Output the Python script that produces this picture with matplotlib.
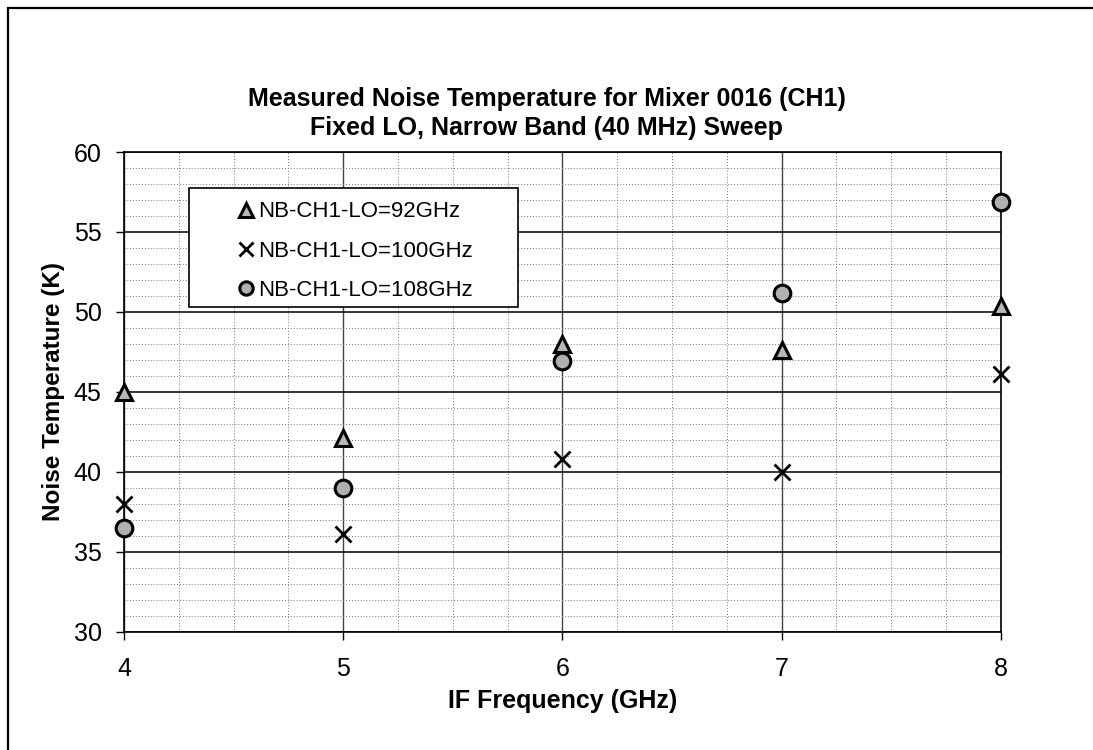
import matplotlib
matplotlib.use("Agg")
import matplotlib.pyplot as plt
from matplotlib.patches import Rectangle
from matplotlib.ticker import MultipleLocator

plt.rcParams['font.family'] = ['Liberation Sans', 'DejaVu Sans']

# data
if_freq = [4, 5, 6, 7, 8]
lo_92 = [45.0, 42.1, 48.0, 47.6, 50.4]
lo_100 = [38.0, 36.1, 40.8, 40.0, 46.1]
lo_108 = [36.5, 39.0, 46.9, 51.2, 56.9]
labels = ['NB-CH1-LO=92GHz', 'NB-CH1-LO=100GHz', 'NB-CH1-LO=108GHz']

fig = plt.figure(figsize=(10.93, 7.5), dpi=100)
ax = fig.add_axes([0.1134, 0.1577, 0.8022, 0.6396])

# outer chart frame (right/bottom run off the picture)
fig.patches.append(Rectangle((8 / 1093, -0.05), 1.2, 1 - 8 / 750 + 0.05,
                             transform=fig.transFigure, fill=False,
                             edgecolor='black', linewidth=1.6))

ax.set_xlim(4, 8)
ax.set_ylim(30, 60)
ax.xaxis.set_major_locator(MultipleLocator(1))
ax.xaxis.set_minor_locator(MultipleLocator(0.25))
ax.yaxis.set_major_locator(MultipleLocator(5))
ax.yaxis.set_minor_locator(MultipleLocator(1))

ax.grid(which='major', axis='y', color='black', linewidth=1.1, linestyle='-')
ax.grid(which='major', axis='x', color='#444444', linewidth=1.0, linestyle='-')
ax.grid(which='minor', color='#777777', linewidth=0.7, linestyle=(0, (1, 2)))
ax.set_axisbelow(True)

for s in ax.spines.values():
    s.set_linewidth(1.2)
    s.set_color('black')

ax.tick_params(which='major', direction='out', length=6, width=1,
               labelsize=18, pad=10)
ax.tick_params(which='minor', length=0)
ax.tick_params(axis='x', pad=12)

ax.plot(if_freq, lo_92, linestyle='none', marker='^', markersize=12,
        markerfacecolor='#b8b8b8', markeredgecolor='black',
        markeredgewidth=2.2, label=labels[0], clip_on=False, zorder=5)
ax.plot(if_freq, lo_100, linestyle='none', marker='x', markersize=12,
        color='black', markeredgewidth=2.0, label=labels[1],
        clip_on=False, zorder=5)
ax.plot(if_freq, lo_108, linestyle='none', marker='o', markersize=12,
        markerfacecolor='#b0b0b0', markeredgecolor='black',
        markeredgewidth=2.2, label=labels[2], clip_on=False, zorder=5)

# legend box drawn separately, entries placed inside it
ax.add_patch(Rectangle((0.074, 0.677), 0.375, 0.248, transform=ax.transAxes,
                       facecolor='white', edgecolor='black', linewidth=1.2,
                       zorder=6))
leg = ax.legend(loc='upper left', bbox_to_anchor=(0.129, 0.897), fontsize=16,
                frameon=False, borderpad=0, labelspacing=0.82,
                handlelength=0.8, handletextpad=0.15, borderaxespad=0,
                markerscale=0.8)
leg.set_zorder(7)

fig.text(0.5, 0.868, 'Measured Noise Temperature for Mixer 0016 (CH1)',
         ha='center', va='center', fontsize=18, fontweight='bold')
fig.text(0.5, 0.829, 'Fixed LO, Narrow Band (40 MHz) Sweep',
         ha='center', va='center', fontsize=18, fontweight='bold')

ax.set_xlabel('IF Frequency (GHz)', fontsize=18, fontweight='bold', labelpad=6)
ax.set_ylabel('Noise Temperature (K)', fontsize=17.5, fontweight='bold', labelpad=6)

fig.savefig('out.png', dpi=100)
